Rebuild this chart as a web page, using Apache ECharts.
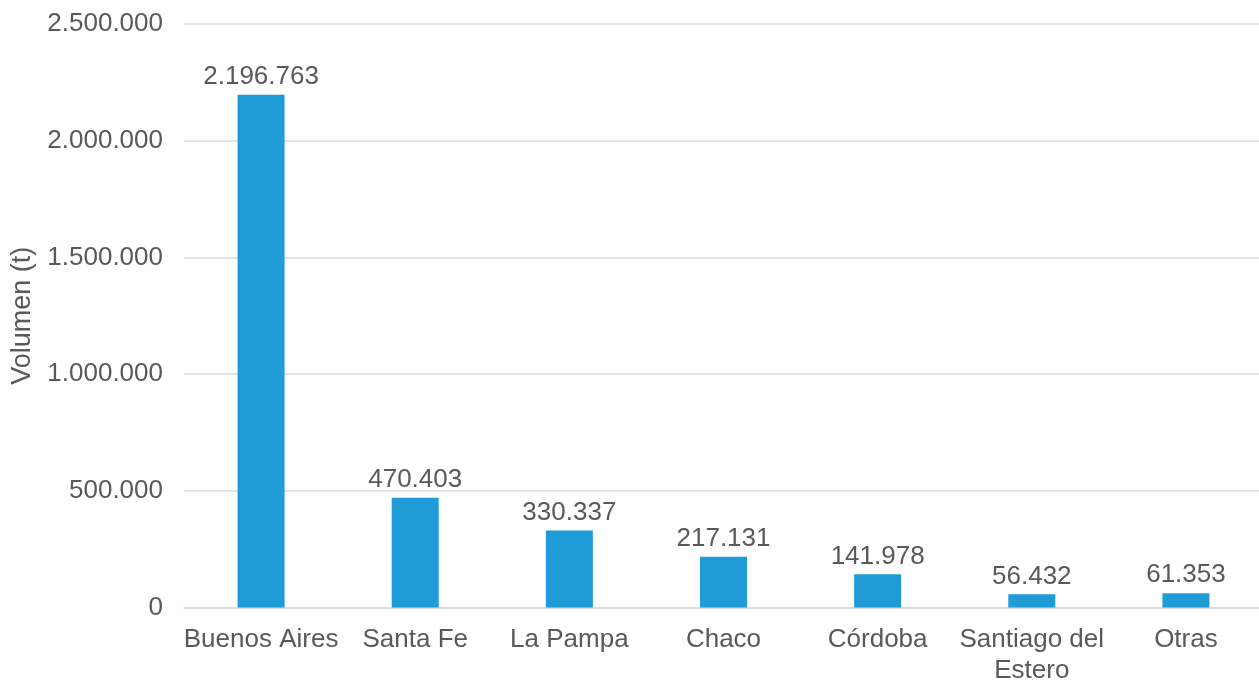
<!DOCTYPE html>
<html>
<head>
<meta charset="utf-8">
<title>Volumen por provincia</title>
<script src="https://cdn.jsdelivr.net/npm/echarts@6/dist/echarts.min.js"></script>
<style>
  html, body { margin: 0; padding: 0; background: #ffffff; }
  #chart { width: 1259px; height: 682px; }
</style>
</head>
<body>
<div id="chart"></div>
<script>
// Provinces and tonnage
const provincias = ['Buenos Aires', 'Santa Fe', 'La Pampa', 'Chaco', 'Córdoba', 'Santiago del\nEstero', 'Otras'];
const volumen = [2196763, 470403, 330337, 217131, 141978, 56432, 61353];
const yMax = 2500000;
const yStep = 500000;

// Thousands separated with dots (es-AR style)
function puntos(v) {
  return String(Math.round(v)).replace(/\B(?=(\d{3})+(?!\d))/g, '.');
}

const textColor = '#595959';
const fontFamily = '"Liberation Sans", Arial, sans-serif';

const chart = echarts.init(document.getElementById('chart'));
chart.setOption({
  animation: false,
  backgroundColor: '#ffffff',
  grid: { left: 184, right: -4, top: 24, bottom: 74.5, outerBoundsMode: 'none', containLabel: false },
  xAxis: {
    type: 'category',
    data: provincias,
    axisLine: { lineStyle: { color: '#D9D9D9', width: 1.5 } },
    axisTick: { show: false },
    axisLabel: {
      color: textColor, fontFamily: fontFamily, fontSize: 26,
      margin: 17, lineHeight: 31, interval: 0
    }
  },
  yAxis: {
    type: 'value',
    min: 0, max: yMax, interval: yStep,
    name: 'Volumen (t)',
    nameLocation: 'middle',
    nameGap: 148,
    nameRotate: 90,
    nameTextStyle: { color: textColor, fontFamily: fontFamily, fontSize: 27 },
    axisLine: { show: false },
    axisTick: { show: false },
    splitLine: { lineStyle: { color: '#D9D9D9', width: 1.5 } },
    axisLabel: {
      color: textColor, fontFamily: fontFamily, fontSize: 26, margin: 21,
      formatter: puntos
    }
  },
  series: [{
    type: 'bar',
    data: volumen,
    barWidth: 47,
    itemStyle: { color: '#1F9BD7' },
    label: {
      show: true, position: 'top', distance: 5,
      color: textColor, fontFamily: fontFamily, fontSize: 26,
      formatter: p => puntos(p.value)
    }
  }]
});
</script>
</body>
</html>
